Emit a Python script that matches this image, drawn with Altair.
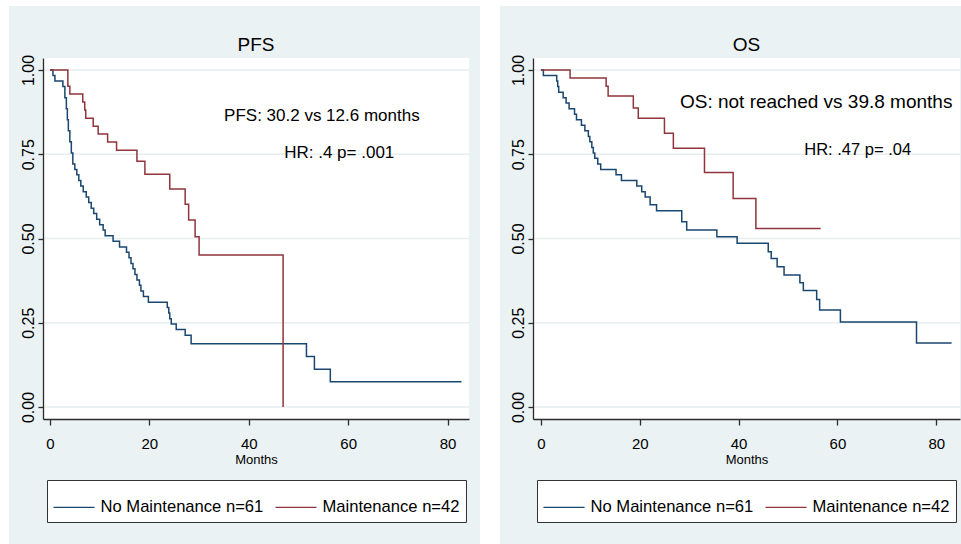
import altair as alt
import pandas as pd

GROUPS = ["No Maintenance n=61", "Maintenance n=42"]
COLORS = ["#1A476F", "#90353B"]
Y_TICKS = [0, 0.25, 0.5, 0.75, 1.0]
X_TICKS = [0, 20, 40, 60, 80]

# PFS, No Maintenance (time in months, survival after step)
PFS_NO_T = [0, 0.6, 1.0, 2.6, 3.0, 3.3, 3.5, 3.7, 4.0, 4.3, 4.6, 5.0, 5.4, 5.8, 6.2, 6.7,
            7.3, 7.8, 8.3, 8.8, 9.4, 10.0, 10.7, 11.1, 12.7, 14.0, 15.4, 15.9, 16.3, 16.7,
            17.1, 17.5, 18.0, 18.3, 18.8, 19.8, 23.6, 23.9, 24.1, 24.4, 25.4, 27.2, 28.4,
            51.6, 53.2, 56.4, 82.8]
PFS_NO_S = [1.0, 0.984, 0.967, 0.951, 0.918, 0.885, 0.852, 0.820, 0.787, 0.754, 0.721, 0.705,
            0.689, 0.672, 0.656, 0.639, 0.623, 0.607, 0.590, 0.574, 0.557, 0.541, 0.525, 0.508,
            0.492, 0.475, 0.459, 0.443, 0.426, 0.410, 0.393, 0.377, 0.361, 0.344, 0.328, 0.311,
            0.295, 0.279, 0.262, 0.246, 0.230, 0.213, 0.188, 0.150, 0.112, 0.075, 0.075]
# PFS, Maintenance
PFS_M_T = [0, 3.6, 4.0, 6.6, 7.0, 7.2, 8.7, 9.7, 11.6, 13.4, 17.5, 19.1, 24.1, 27.2, 27.9,
           29.2, 30.0, 46.9]
PFS_M_S = [1.0, 0.952, 0.929, 0.905, 0.881, 0.857, 0.833, 0.810, 0.786, 0.762, 0.729, 0.691,
           0.647, 0.602, 0.555, 0.505, 0.451, 0.0]
# OS, No Maintenance
OS_NO_T = [0, 0.5, 3.2, 3.4, 3.6, 4.5, 5.1, 5.7, 6.8, 7.2, 8.2, 8.9, 9.6, 9.9, 10.3, 10.6,
           10.9, 11.5, 12.1, 15.2, 16.3, 19.4, 20.4, 21.1, 22.1, 23.4, 28.5, 29.5, 35.6, 39.7,
           46.0, 46.6, 47.8, 49.2, 52.4, 53.1, 55.8, 56.4, 60.6, 76.0, 83.1]
OS_NO_S = [1.0, 0.984, 0.967, 0.951, 0.934, 0.918, 0.902, 0.885, 0.869, 0.852, 0.836, 0.820,
           0.803, 0.787, 0.770, 0.754, 0.738, 0.721, 0.705, 0.689, 0.672, 0.656, 0.639, 0.623,
           0.600, 0.582, 0.550, 0.525, 0.505, 0.486, 0.461, 0.441, 0.416, 0.392, 0.369, 0.346,
           0.319, 0.288, 0.252, 0.190, 0.190]
# OS, Maintenance
OS_M_T = [0, 5.9, 13.2, 13.6, 18.7, 19.7, 25.0, 26.8, 33.1, 38.9, 43.5, 56.6]
OS_M_S = [1.0, 0.976, 0.952, 0.923, 0.887, 0.857, 0.812, 0.768, 0.696, 0.619, 0.530, 0.530]

PFS_ANN = ["PFS: 30.2 vs 12.6 months", "HR: .4 p= .001"]
PFS_ANN_X = [54.7, 58.2]
PFS_ANN_Y = [0.85, 0.739]
PFS_ANN_SIZE = [17, 17]
OS_ANN = ["OS: not reached vs 39.8 months", "HR: .47 p= .04"]
OS_ANN_X = [55.7, 64.1]
OS_ANN_Y = [0.886, 0.748]
OS_ANN_SIZE = [19, 16.5]

BG = "#EAF2F3"
GRID = "#E6EEF0"
AXC = "#2b2b2b"
FONT = "Liberation Sans, Arial, sans-serif"
HEIGHT = 361


def curves(t_no, s_no, t_m, s_m):
    return pd.concat([
        pd.DataFrame({"t": t_no, "s": s_no, "g": GROUPS[0]}),
        pd.DataFrame({"t": t_m, "s": s_m, "g": GROUPS[1]}),
    ], ignore_index=True)


def panel(df, title, ann, ann_x, ann_y, ann_size, xdom, width, bgx1, bgx2):
    xs = alt.Scale(domain=xdom, nice=False, zero=False)
    ys = alt.Scale(domain=[-0.0356, 1.0356], nice=False, zero=False)
    xaxis = alt.Axis(values=X_TICKS, tickSize=6, tickColor=AXC, domainColor=AXC, domainWidth=1.3,
                     tickWidth=1.3, labelPadding=11, labelFontSize=15, labelFont=FONT,
                     labelColor="black", title="Months", titleFont=FONT, titleFontSize=13,
                     titleFontWeight="normal", titleColor="black", titlePadding=2, grid=False,
                     zindex=1, labelFlush=False)
    yaxis = alt.Axis(values=Y_TICKS, format=".2f", labelAngle=270, labelAlign="center",
                     labelBaseline="bottom", tickSize=5, tickColor=AXC, domainColor=AXC,
                     domainWidth=1.3, tickWidth=1.3, labelPadding=2, labelFontSize=16,
                     labelFont=FONT, labelColor="black", title=None, grid=False, zindex=1)
    one = pd.DataFrame({"k": [0]})
    bg = alt.Chart(one).mark_rect(color=BG).encode(
        x=alt.value(bgx1), x2=alt.value(bgx2), y=alt.value(-52), y2=alt.value(486))
    plot_bg = alt.Chart(one).mark_rect(color="white").encode(
        x=alt.value(0), x2=alt.value(width), y=alt.value(0), y2=alt.value(HEIGHT))
    grid = alt.Chart(pd.DataFrame({"s": Y_TICKS})).mark_rule(color=GRID, strokeWidth=1.5).encode(
        y=alt.Y("s:Q", scale=ys, axis=yaxis), x=alt.value(0), x2=alt.value(width))
    legend = alt.Legend(orient="none", legendX=4, legendY=422, direction="horizontal",
                        title=None, symbolType="stroke", symbolSize=1681, symbolStrokeWidth=1.3,
                        labelFontSize=16.6, labelFont=FONT, labelColor="black", labelLimit=400,
                        fillColor="white", strokeColor="#333333", padding=5.5, columnPadding=9,
                        labelOffset=5)
    lines = alt.Chart(df).mark_line(interpolate="step-after", strokeWidth=1.5).encode(
        x=alt.X("t:Q", scale=xs, axis=xaxis),
        y=alt.Y("s:Q", scale=ys, axis=yaxis),
        color=alt.Color("g:N", scale=alt.Scale(domain=GROUPS, range=COLORS), legend=legend,
                        sort=GROUPS),
    )
    ann_df = pd.DataFrame({"txt": ann, "t": ann_x, "s": ann_y, "sz": ann_size})
    ann_layer = alt.Chart(ann_df).mark_text(font=FONT, color="black", align="center",
                                            baseline="alphabetic").encode(
        x=alt.X("t:Q", scale=xs, axis=xaxis), y=alt.Y("s:Q", scale=ys, axis=yaxis),
        text="txt:N", size=alt.Size("sz:Q", scale=None, legend=None))
    ttl = alt.Chart(pd.DataFrame({"txt": [title]})).mark_text(
        font=FONT, fontSize=19, color="black", align="center", baseline="alphabetic").encode(
        x=alt.value(width / 2), y=alt.value(-7), text="txt:N")
    return alt.layer(bg, plot_bg, grid, lines, ann_layer, ttl).properties(width=width, height=HEIGHT)


left = panel(curves(PFS_NO_T, PFS_NO_S, PFS_M_T, PFS_M_S), "PFS", PFS_ANN, PFS_ANN_X, PFS_ANN_Y,
             PFS_ANN_SIZE, [-1.4, 84.3], 426, -34, 437)
right = panel(curves(OS_NO_T, OS_NO_S, OS_M_T, OS_M_S), "OS", OS_ANN, OS_ANN_X, OS_ANN_Y,
              OS_ANN_SIZE, [-1.6, 84.8], 427, -33, 428)

chart = alt.hconcat(left, right, spacing=20).resolve_scale(
    color="independent", x="independent", y="independent", size="independent"
).properties(
    padding={"left": 9, "top": 6, "right": 0, "bottom": 0}, background="white"
).configure_view(strokeWidth=0)

chart.save("out.html", embed_options={"renderer": "svg", "actions": False})
